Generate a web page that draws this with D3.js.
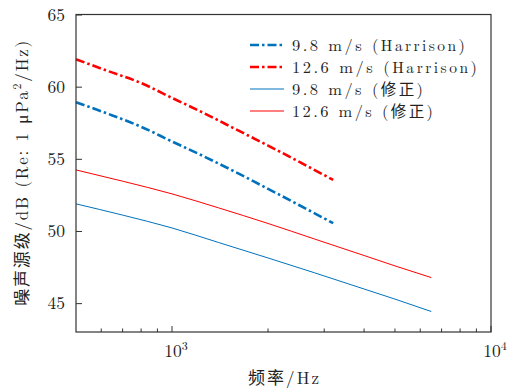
<!DOCTYPE html>
<html lang="zh">
<head>
    <meta charset="UTF-8">
    <title>噪声源级</title>
    <script src="https://d3js.org/d3.v7.min.js"></script>
    <style>
        body {
            margin: 0;
            padding: 0;
            background-color: white;
        }
        svg {
            display: block;
        }
        .serif {
            font-family: 'Latin Modern Roman', 'CMU Serif', 'Liberation Serif', serif;
        }
        .cjk {
            font-family: 'Noto Sans CJK SC', sans-serif;
        }
    </style>
</head>
<body>
    <div id="chart"></div>

    <script type="text/javascript">
        // Harrison model curves (dash-dot)
        const freqHarrison = [500, 630, 800, 1000, 1250, 1600, 2000, 2500, 3200];
        const harrison98 = [58.92, 58.12, 57.22, 56.2, 55.2, 54.03, 52.92, 51.8, 50.54];
        const harrison126 = [61.9, 61.08, 60.25, 59.22, 58.2, 57.0, 55.92, 54.8, 53.54];

        // corrected curves (thin solid)
        const freqCorrected = [500, 700, 1000, 1400, 2000, 2800, 4000, 5000, 6500];
        const corrected98 = [51.88, 51.1, 50.21, 49.2, 48.13, 47.1, 45.98, 45.28, 44.42];
        const corrected126 = [54.23, 53.45, 52.57, 51.6, 50.52, 49.44, 48.3, 47.58, 46.77];

        const yTicks = [45, 50, 55, 60, 65];
        const xMajorTicks = [1000, 10000];
        const xMinorTicks = [600, 700, 800, 900, 2000, 3000, 4000, 5000, 6000, 7000, 8000, 9000];

        const legendLabels = ["9.8 m/s (Harrison)", "12.6 m/s (Harrison)", "9.8 m/s (修正)", "12.6 m/s (修正)"];
        const legendWidths = [173, 185, 131, 141];

        const width = 515;
        const height = 389;
        const margin = {left: 76, right: 24, top: 14.5, bottom: 57};

        const blue = "#0072bd";
        const red = "#ff0000";

        const svg = d3.select("#chart").append("svg")
            .attr("width", width)
            .attr("height", height);

        const x = d3.scaleLog()
            .domain([500, 10000])
            .range([margin.left, width - margin.right]);

        const y = d3.scaleLinear()
            .domain([43, 65])
            .range([height - margin.bottom, margin.top]);

        const series = [
            {freq: freqHarrison, values: harrison98, color: blue, width: 2.6, dash: "9,3,2.5,3"},
            {freq: freqHarrison, values: harrison126, color: red, width: 2.6, dash: "9,3,2.5,3"},
            {freq: freqCorrected, values: corrected98, color: blue, width: 1, dash: null},
            {freq: freqCorrected, values: corrected126, color: red, width: 1, dash: null}
        ];

        const line = d3.line()
            .x(d => x(d[0]))
            .y(d => y(d[1]))
            .curve(d3.curveMonotoneX);

        const plot = svg.append("g");

        series.forEach(s => {
            plot.append("path")
                .datum(s.freq.map((f, i) => [f, s.values[i]]))
                .attr("fill", "none")
                .attr("stroke", s.color)
                .attr("stroke-width", s.width)
                .attr("stroke-dasharray", s.dash)
                .attr("d", line);
        });

        // frame
        const x0 = x.range()[0], x1 = x.range()[1];
        const y0 = y.range()[0], y1 = y.range()[1];
        svg.append("rect")
            .attr("x", x0)
            .attr("y", y1)
            .attr("width", x1 - x0)
            .attr("height", y0 - y1)
            .attr("fill", "none")
            .attr("stroke", "#333")
            .attr("stroke-width", 1.2);

        // y axis, ticks pointing inward
        const yAxis = svg.append("g")
            .attr("transform", `translate(${x0},0)`)
            .call(d3.axisLeft(y).tickValues(yTicks).tickSize(-6).tickPadding(11).tickFormat(d3.format("d")));
        yAxis.select(".domain").remove();
        yAxis.selectAll("line").attr("stroke", "#333");
        yAxis.selectAll("text")
            .attr("class", "serif")
            .attr("font-size", 17.5)
            .attr("fill", "#222");

        // x axis, major and minor ticks pointing inward
        const xAxis = svg.append("g")
            .attr("transform", `translate(0,${y0})`);
        xAxis.selectAll("line.minor")
            .data(xMinorTicks)
            .join("line")
            .attr("class", "minor")
            .attr("x1", d => x(d)).attr("x2", d => x(d))
            .attr("y1", 0).attr("y2", -3.5)
            .attr("stroke", "#333");
        xAxis.selectAll("line.major")
            .data(xMajorTicks)
            .join("line")
            .attr("class", "major")
            .attr("x1", d => x(d)).attr("x2", d => x(d))
            .attr("y1", 0).attr("y2", -6)
            .attr("stroke", "#333");
        const xLabels = xAxis.selectAll("text.tick")
            .data(xMajorTicks)
            .join("text")
            .attr("class", "serif")
            .attr("x", d => x(d) + 4)
            .attr("y", 25)
            .attr("text-anchor", "middle")
            .attr("font-size", 17.5)
            .attr("fill", "#222");
        xLabels.append("tspan").text("10");
        xLabels.append("tspan")
            .attr("font-size", 12)
            .attr("dy", -7)
            .text(d => Math.round(Math.log10(d)));

        // x axis title
        const xTitle = svg.append("text")
            .attr("x", (x0 + x1) / 2)
            .attr("y", 384)
            .attr("text-anchor", "middle")
            .attr("font-size", 17)
            .attr("textLength", 71)
            .attr("lengthAdjust", "spacing")
            .attr("fill", "#222");
        xTitle.append("tspan").attr("class", "cjk").text("频率");
        xTitle.append("tspan").attr("class", "serif").text("/Hz");

        // y axis title
        const yTitle = svg.append("text")
            .attr("transform", `translate(28,${(y0 + y1) / 2}) rotate(-90)`)
            .attr("text-anchor", "middle")
            .attr("font-size", 17)
            .attr("textLength", 265)
            .attr("lengthAdjust", "spacing")
            .attr("fill", "#222");
        yTitle.append("tspan").attr("class", "cjk").text("噪声源级");
        yTitle.append("tspan").attr("class", "serif").text("/dB (Re: 1 μPa");
        yTitle.append("tspan").attr("class", "serif").attr("font-size", 12).attr("dy", -7).text("2");
        yTitle.append("tspan").attr("class", "serif").attr("dy", 7).text("/Hz)");

        // legend
        const legend = svg.append("g").attr("transform", "translate(250,45)");
        const rows = legend.selectAll("g")
            .data(series)
            .join("g")
            .attr("transform", (d, i) => `translate(0,${i * 22})`);
        rows.append("line")
            .attr("x1", 0).attr("x2", 34)
            .attr("y1", 0).attr("y2", 0)
            .attr("stroke", d => d.color)
            .attr("stroke-width", d => d.width)
            .attr("stroke-dasharray", d => d.dash);
        rows.each(function(d, i) {
            const label = legendLabels[i];
            const t = d3.select(this).append("text")
                .attr("x", 42)
                .attr("y", 5.5)
                .attr("font-size", 16.5)
                .attr("textLength", legendWidths[i])
                .attr("lengthAdjust", "spacing")
                .attr("fill", "#222");
            const m = label.match(/^(.*\()(.*)(\))$/);
            const inner = m[2];
            t.append("tspan").attr("class", "serif").attr("xml:space", "preserve").text(m[1]);
            t.append("tspan").attr("class", /[\u4e00-\u9fff]/.test(inner) ? "cjk" : "serif").attr("font-size", 15.5).text(inner);
            t.append("tspan").attr("class", "serif").text(m[3]);
        });
    </script>
</body>
</html>
